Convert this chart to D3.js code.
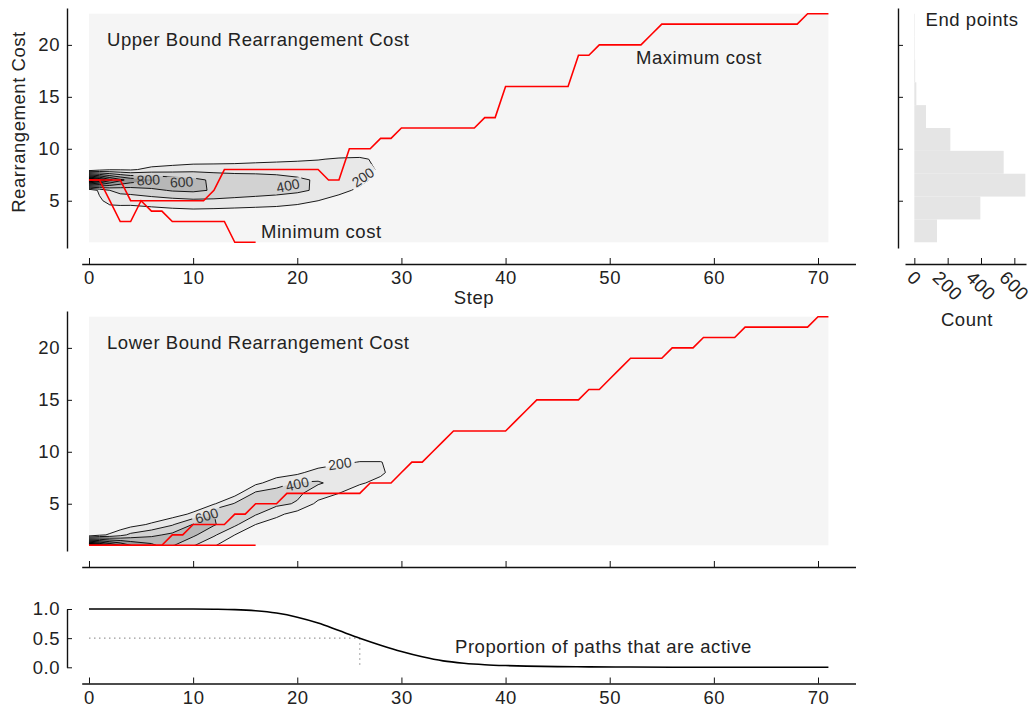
<!DOCTYPE html>
<html>
<head>
<meta charset="utf-8">
<script src="https://cdn.jsdelivr.net/npm/d3@7"></script>
<style>
  body { margin: 0; background: #fff; }
  svg text { font-family: "Liberation Sans", Arial, sans-serif; fill: #222; font-size: 18.5px; letter-spacing: 0.55px; }
  .axis path, .axis line { stroke: #111; }
</style>
</head>
<body>
<svg id="chart" width="1032" height="709"></svg>
<script>
// ---------------- data ----------------
var stepTicks = [0, 10, 20, 30, 40, 50, 60, 70];
var costTicks = [5, 10, 15, 20];
var propTicks = [0, 0.5, 1.0];
var countTicks = [0, 200, 400, 600];

// cost of the most / least expensive path at every step (index = step)
var upperMaxCost = [7,7,7,7, 5,5,5,5,5,5,5,5, 6, 8,8,8,8,8,8,8,8,8,8, 7,7, 10,10,10, 11,11,
  12,12,12,12,12,12,12,12, 13,13, 16,16,16,16,16,16,16, 19,19, 20,20,20,20,20, 21,
  22,22,22,22,22,22,22,22,22,22,22,22,22,22, 23,23,23];
var upperMinCost = [7,7,5,3,3,5,4,4,3,3,3,3,3,3,1,1,1];
var lowerMaxCost = [1,1,1,1,1,1,1,1, 2,2, 3,3,3,3, 4,4, 5,5,5, 6,6,6,6,6,6,6,6, 7,7,7, 8, 9,9,
  10, 11, 12,12,12,12,12,12, 13, 14, 15,15,15,15,15, 16,16, 17, 18, 19,19,19,19,
  20,20,20, 21,21,21,21, 22,22,22,22,22,22,22, 23,23];
var lowerMinCost = [1,1,1,1,1,1,1,1,1,1,1,1,1,1,1,1,1];

// path density grid (one column per listed step, one value per cost row)
var densitySteps = [0, 1, 2, 3, 4, 6, 8, 10, 12, 14, 16, 18, 20, 22, 24, 26, 28, 30];
var densityLevels = [200, 400, 600, 800, 1000, 1200, 1400, 1600, 1800];
var upperDensityCosts = [3, 4, 5, 6, 7, 8, 9, 10, 11];
var upperDensity = [
  [0, 0, 0, 0, 2000, 0, 0, 0, 0],
  [0, 0, 150, 250, 1600, 120, 0, 0, 0],
  [0, 50, 300, 400, 1250, 180, 0, 0, 0],
  [0, 80, 300, 450, 1050, 180, 0, 0, 0],
  [0, 100, 280, 480, 920, 170, 20, 0, 0],
  [0, 130, 300, 550, 830, 260, 30, 0, 0],
  [0, 150, 330, 620, 720, 300, 50, 0, 0],
  [0, 160, 360, 640, 660, 330, 80, 0, 0],
  [0, 150, 360, 580, 560, 330, 90, 0, 0],
  [0, 140, 340, 540, 530, 320, 110, 0, 0],
  [0, 130, 320, 510, 500, 330, 130, 0, 0],
  [0, 120, 300, 480, 470, 330, 150, 10, 0],
  [0, 80, 270, 440, 430, 320, 170, 20, 0],
  [0, 40, 200, 370, 380, 310, 190, 30, 0],
  [0, 0, 120, 260, 320, 300, 220, 40, 0],
  [0, 0, 40, 160, 260, 280, 230, 50, 0],
  [0, 0, 0, 50, 120, 170, 160, 30, 0],
  [0, 0, 0, 20, 60, 80, 70, 20, 0]
];
var lowerDensityCosts = [0, 1, 2, 3, 4, 5, 6, 7, 8, 9, 10, 11];
var lowerDensity = [
  [0, 2000, 0, 0, 0, 0, 0, 0, 0, 0, 0, 0],
  [0, 1700, 150, 0, 0, 0, 0, 0, 0, 0, 0, 0],
  [0, 1400, 230, 0, 0, 0, 0, 0, 0, 0, 0, 0],
  [0, 1200, 330, 60, 0, 0, 0, 0, 0, 0, 0, 0],
  [0, 1000, 450, 120, 0, 0, 0, 0, 0, 0, 0, 0],
  [0, 850, 550, 230, 30, 0, 0, 0, 0, 0, 0, 0],
  [0, 620, 650, 380, 100, 0, 0, 0, 0, 0, 0, 0],
  [0, 420, 640, 610, 240, 40, 0, 0, 0, 0, 0, 0],
  [0, 220, 430, 620, 600, 180, 20, 0, 0, 0, 0, 0],
  [0, 60, 200, 440, 580, 420, 120, 10, 0, 0, 0, 0],
  [0, 20, 120, 200, 420, 520, 440, 150, 10, 0, 0, 0],
  [0, 0, 40, 100, 250, 450, 500, 300, 100, 0, 0, 0],
  [0, 0, 0, 30, 120, 380, 440, 420, 150, 10, 0, 0],
  [0, 0, 0, 0, 40, 150, 300, 420, 300, 60, 0, 0],
  [0, 0, 0, 0, 0, 60, 200, 340, 360, 150, 10, 0],
  [0, 0, 0, 0, 0, 10, 100, 220, 300, 210, 20, 0],
  [0, 0, 0, 0, 0, 0, 40, 150, 230, 210, 20, 0],
  [0, 0, 0, 0, 0, 0, 10, 60, 100, 80, 10, 0]
];

// end point histogram
var endBinEdges = [1, 3.2, 5.4, 7.6, 9.8, 12, 14.2, 16.4, 18.6, 20.8, 23];
var endCounts = [136, 396, 666, 536, 216, 70, 12, 5, 3, 3];

// proportion of paths still active
var activeSteps = [0, 2, 4, 6, 8, 10, 12, 14, 16, 18, 20, 22, 24, 26, 28, 30, 32, 34, 36, 38, 40, 42, 45, 48, 52, 56, 60, 65, 71];
var activeProp = [1, 1, 1, 1, 1, 1, 0.997, 0.99, 0.97, 0.93, 0.86, 0.76, 0.63, 0.5, 0.38, 0.27, 0.18, 0.11, 0.07, 0.045, 0.03, 0.02, 0.012, 0.007, 0.004, 0.002, 0.001, 0.0005, 0];
var halfStep = 26;

// ---------------- scales ----------------
var svg = d3.select("#chart");
var x = d3.scaleLinear().domain([-0.7, 73.6]).range([81.7, 855.5]);
var yTop = d3.scaleLinear().domain([0.45, 23.55]).range([248, 8]);
var yMid = d3.scaleLinear().domain([0.45, 23.55]).range([551, 311]);
var yProp = d3.scaleLinear().domain([0, 1]).range([667.3, 609]);
var hx = d3.scaleLinear().domain([-56, 670]).range([905, 1026]);
var grey = d3.scaleSequential(d3.interpolateGreys).domain([0, 1800]).clamp(true);
var spineX = 67;

function styleAxis(g) {
    g.attr("class", "axis");
    g.select(".domain").attr("stroke-width", 1.4);
    g.selectAll(".tick line").attr("stroke-width", 1);
    g.selectAll(".tick text").attr("font-size", null).attr("fill", null);
}

function drawDensityPanel(yScale, cols, costs, maxPath, minPath, title, labels, id) {
    var panel = svg.append("g");

    // grey backdrop = lowest contour band
    panel.append("rect")
        .attr("x", x(0)).attr("y", yScale(23))
        .attr("width", x(71) - x(0)).attr("height", yScale(1) - yScale(23))
        .attr("fill", "#f5f5f5");

    svg.append("clipPath").attr("id", "clip" + id)
        .append("rect")
        .attr("x", x(0)).attr("y", yScale(23))
        .attr("width", x(71) - x(0)).attr("height", yScale(1) - yScale(23));

    var n = densitySteps.length, m = costs.length;
    var values = [];
    for (var j = 0; j < m; j++) {
        for (var i = 0; i < n; i++) values.push(cols[i][j]);
    }
    var contours = d3.contours().size([n, m]).thresholds(densityLevels)(values);
    var gx = d3.scaleLinear().domain(d3.range(n)).range(densitySteps);
    var gy = d3.scaleLinear().domain(d3.range(m)).range(costs);
    var proj = d3.geoTransform({
        point: function (px, py) {
            this.stream.point(x(gx(px - 0.5)), yScale(gy(py - 0.5)));
        }
    });
    var path = d3.geoPath(proj);

    var cg = panel.append("g").attr("clip-path", "url(#clip" + id + ")");
    cg.selectAll("path.fill")
        .data(contours)
        .enter().append("path")
        .attr("class", "fill")
        .attr("d", path)
        .attr("fill", function (d) { return grey(d.value + 100); })
        .attr("stroke", "none");

    // mask to break contour lines under their labels
    var mask = svg.append("mask").attr("id", "mask" + id)
        .attr("maskUnits", "userSpaceOnUse")
        .attr("x", 0).attr("y", 0).attr("width", 1032).attr("height", 709);
    mask.append("rect").attr("width", 1032).attr("height", 709).attr("fill", "#fff");

    cg.append("g").attr("mask", "url(#mask" + id + ")")
        .selectAll("path")
        .data(contours)
        .enter().append("path")
        .attr("d", path)
        .attr("fill", "none")
        .attr("stroke", "#000")
        .attr("stroke-width", 0.9);

    labels.forEach(function (l) {
        var t = panel.append("text")
            .attr("transform", "translate(" + x(l[1]) + "," + yScale(l[2]) + ") rotate(" + l[3] + ")")
            .attr("text-anchor", "middle")
            .attr("dy", "0.35em")
            .style("font-size", "14px")
            .style("letter-spacing", "0px")
            .style("fill", "#333")
            .text(l[0]);
        var w = t.node().getComputedTextLength() + 6;
        mask.append("rect")
            .attr("transform", "translate(" + x(l[1]) + "," + yScale(l[2]) + ") rotate(" + l[3] + ")")
            .attr("x", -w / 2).attr("y", -6).attr("width", w).attr("height", 12)
            .attr("fill", "#000");
    });

    var line = d3.line()
        .x(function (d, i) { return x(i); })
        .y(function (d) { return yScale(d); });
    [maxPath, minPath].forEach(function (p) {
        panel.append("path")
            .datum(p)
            .attr("d", line)
            .attr("fill", "none")
            .attr("stroke", "#ff0000")
            .attr("stroke-width", 1.6);
    });

    panel.append("text")
        .attr("x", 107).attr("y", yScale(20) + 1.5)
        .text(title);

    // y axis (ticks point inward)
    var ya = panel.append("g")
        .attr("transform", "translate(" + spineX + ",0)")
        .call(d3.axisLeft(yScale).tickValues(costTicks).tickSize(-5).tickSizeOuter(0).tickPadding(7));
    styleAxis(ya);
}

// ---------------- upper bound panel ----------------
drawDensityPanel(yTop, upperDensity, upperDensityCosts, upperMaxCost, upperMinCost,
    "Upper Bound Rearrangement Cost",
    [["800", 5.7, 7.0, -3], ["600", 8.9, 6.8, -3], ["400", 19.1, 6.45, -12], ["200", 26.3, 7.25, -35]], "U");

var xaTop = svg.append("g")
    .attr("transform", "translate(0,264)")
    .call(d3.axisBottom(x).tickValues(stepTicks).tickSize(-6).tickSizeOuter(0).tickPadding(7));
styleAxis(xaTop);

svg.append("text").attr("x", 636).attr("y", 64).text("Maximum cost");
svg.append("text").attr("x", 261).attr("y", 238).text("Minimum cost");
svg.append("text").attr("x", 474).attr("y", 304).attr("text-anchor", "middle").text("Step");
svg.append("text")
    .attr("transform", "translate(25,122) rotate(-90)")
    .attr("text-anchor", "middle")
    .text("Rearrangement Cost");

// ---------------- lower bound panel ----------------
drawDensityPanel(yMid, lowerDensity, lowerDensityCosts, lowerMaxCost, lowerMinCost,
    "Lower Bound Rearrangement Cost",
    [["600", 11.3, 3.85, -18], ["400", 20.0, 6.9, -13], ["200", 24.1, 8.85, -8]], "L");

var xaMid = svg.append("g")
    .attr("transform", "translate(0,567)")
    .call(d3.axisBottom(x).tickValues(stepTicks).tickSize(-6).tickSizeOuter(0).tickFormat(""));
styleAxis(xaMid);

// ---------------- active proportion panel ----------------
svg.append("line")
    .attr("x1", x(0)).attr("x2", x(halfStep))
    .attr("y1", yProp(0.5)).attr("y2", yProp(0.5))
    .attr("stroke", "#999").attr("stroke-width", 1.2).attr("stroke-dasharray", "1.5,3.5");
svg.append("line")
    .attr("x1", x(halfStep)).attr("x2", x(halfStep))
    .attr("y1", yProp(0.5)).attr("y2", yProp(0))
    .attr("stroke", "#999").attr("stroke-width", 1.2).attr("stroke-dasharray", "1.5,3.5");

svg.append("path")
    .datum(activeProp)
    .attr("d", d3.line()
        .x(function (d, i) { return x(activeSteps[i]); })
        .y(function (d) { return yProp(d); })
        .curve(d3.curveMonotoneX))
    .attr("fill", "none")
    .attr("stroke", "#000")
    .attr("stroke-width", 1.6);

var ya3 = svg.append("g")
    .attr("transform", "translate(" + spineX + ",0)")
    .call(d3.axisLeft(yProp).tickValues(propTicks).tickFormat(d3.format(".1f"))
        .tickSize(-5).tickSizeOuter(0).tickPadding(7));
styleAxis(ya3);

var xaBot = svg.append("g")
    .attr("transform", "translate(0,683.5)")
    .call(d3.axisBottom(x).tickValues(stepTicks).tickSize(-6).tickSizeOuter(0).tickPadding(7));
styleAxis(xaBot);

svg.append("text").attr("x", 455).attr("y", 653).text("Proportion of paths that are active");

// ---------------- end point histogram ----------------
svg.selectAll("rect.bin")
    .data(endCounts)
    .enter().append("rect")
    .attr("class", "bin")
    .attr("x", hx(0))
    .attr("y", function (d, i) { return yTop(endBinEdges[i + 1]); })
    .attr("width", function (d) { return hx(d) - hx(0); })
    .attr("height", function (d, i) { return yTop(endBinEdges[i]) - yTop(endBinEdges[i + 1]); })
    .attr("fill", "#e5e5e5");

var yaH = svg.append("g")
    .attr("transform", "translate(898,0)")
    .call(d3.axisLeft(yTop).tickValues(costTicks).tickSize(-5).tickSizeOuter(0).tickFormat(""));
styleAxis(yaH);

var xaH = svg.append("g")
    .attr("transform", "translate(0,264)")
    .call(d3.axisBottom(hx).tickValues(countTicks).tickSize(-6).tickSizeOuter(0).tickFormat(""));
styleAxis(xaH);

countTicks.forEach(function (v) {
    var t = svg.append("text")
        .attr("text-anchor", "middle")
        .attr("dy", "0.35em")
        .text(v);
    var w = t.node().getComputedTextLength();
    var cy = 270 + (w + 12) * 0.7071 / 2;
    t.attr("transform", "translate(" + hx(v) + "," + cy + ") rotate(45)");
});

svg.append("text").attr("x", 967).attr("y", 326).attr("text-anchor", "middle").text("Count");
svg.append("text").attr("x", 972).attr("y", 26).attr("text-anchor", "middle").text("End points");
</script>
</body>
</html>
